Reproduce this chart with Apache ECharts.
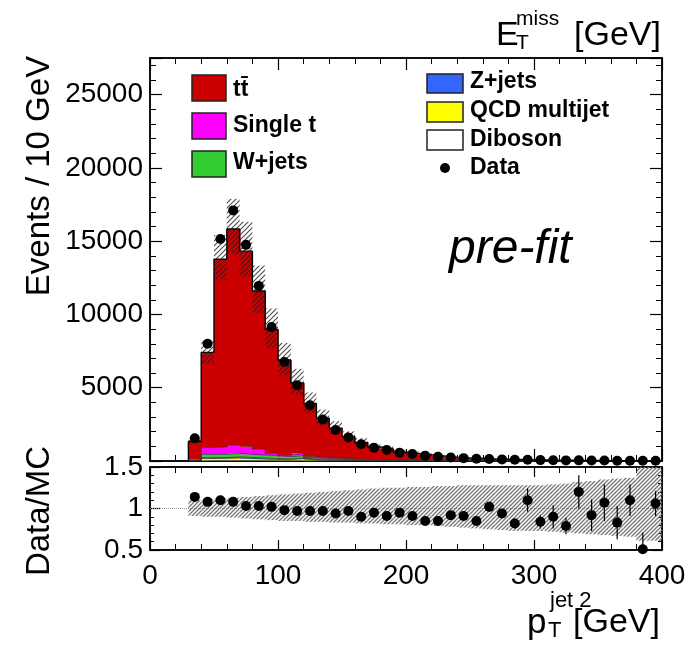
<!DOCTYPE html>
<html><head><meta charset="utf-8">
<script src="https://cdn.jsdelivr.net/npm/echarts@6/dist/echarts.min.js"></script>
<style>html,body{margin:0;padding:0;background:#fff}#c{width:691px;height:651px}</style>
</head><body><div id="c"></div>
<script>
// ---------- data (bins of 10 GeV, low edges) ----------
const binLow = [30,40,50,60,70,80,90,100,110,120,130,140,150,160,170,180,190,200,210,220,230,240,250,260,270,280,290,300,310,320,330,340,350,360,370,380,390];
const binWidth = 10;
const diboson = [5,30,35,35,30,25,20,18,15,12,10,8,7,6,5,4,4,3,3,2,2,2,2,1,1,1,1,1,1,1,1,1,0.5,0.5,0.5,0.5,0.5];
const qcd     = [20,140,140,170,140,110,90,80,140,60,45,35,28,22,18,15,12,10,8,7,6,5,4,3,3,2,2,2,1,1,1,1,1,1,1,1,1];
const zjets   = [10,60,70,80,70,60,50,45,40,30,25,20,16,13,10,8,7,6,5,4,3,3,2,2,2,1,1,1,1,1,1,1,0.5,0.5,0.5,0.5,0.5];
const wjets   = [25,220,210,235,215,215,200,150,170,100,80,65,50,40,32,26,22,18,15,12,10,8,7,6,5,4,3,3,2,2,2,1.5,1.5,1,1,1,1];
const singleT = [30,460,495,570,520,385,160,90,150,90,60,45,35,28,22,18,15,12,10,8,6,5,4,3.5,3,2.5,2,1.5,1.2,1,1,0.8,0.7,0.6,0.5,0.4,0.4];
const ttbar   = [1240,6500,12820,14740,13345,10805,8450,6507,4815,3638,2700,2072,1524,1156,871,753,540,473,389,308,234,191,163,117,103,92,63,62,53,46,31.5,31,23,22.5,16,19.5,12];
const dataVals = [1550,8000,15150,17100,14750,11950,9150,6750,5170,3810,2830,2110,1610,1140,910,750,570,475,365,290,240,195,155,135,110,85,80,60,55,42,45,33,30,22,22,12,16];
const ratioVals = [1.14,1.08,1.10,1.08,1.03,1.03,1.02,0.98,0.97,0.97,0.97,0.94,0.97,0.90,0.95,0.91,0.95,0.91,0.85,0.85,0.92,0.91,0.85,1.02,0.94,0.82,1.10,0.84,0.90,0.79,1.20,0.92,1.07,0.83,1.10,0.51,1.06];
const ratioErr  = [0.02,0.015,0.01,0.01,0.01,0.01,0.015,0.015,0.02,0.02,0.02,0.025,0.03,0.03,0.035,0.035,0.04,0.04,0.045,0.045,0.05,0.05,0.05,0.06,0.05,0.06,0.14,0.08,0.14,0.10,0.20,0.19,0.22,0.20,0.19,0.20,0.15];
const bandLo = [0.91,0.90,0.90,0.89,0.88,0.87,0.86,0.85,0.85,0.84,0.84,0.83,0.83,0.82,0.82,0.81,0.81,0.80,0.80,0.79,0.78,0.77,0.76,0.75,0.74,0.73,0.73,0.73,0.72,0.71,0.70,0.69,0.68,0.67,0.66,0.61,0.61];
const bandHi = [1.10,1.11,1.12,1.13,1.14,1.15,1.16,1.17,1.18,1.19,1.20,1.21,1.22,1.23,1.24,1.25,1.25,1.26,1.26,1.27,1.27,1.28,1.28,1.28,1.28,1.28,1.28,1.28,1.29,1.30,1.32,1.33,1.35,1.36,1.37,1.55,1.55];
const xTicks = [0,100,200,300,400];
const yTicksTop = [5000,10000,15000,20000,25000];
const yTicksRatio = [0.5,1,1.5];

// ---------- styles ----------
const FONT = '"Liberation Sans", Arial, Helvetica, sans-serif';
const components = [
  {name:'Diboson', vals: diboson, color:'#ffffff'},
  {name:'QCD multijet', vals: qcd, color:'#ffff00'},
  {name:'Z+jets', vals: zjets, color:'#3366ff'},
  {name:'W+jets', vals: wjets, color:'#33cc33'},
  {name:'Single t', vals: singleT, color:'#ff00ff'},
  {name:'tt\u0304', vals: ttbar, color:'#cc0000'}
];

function hatch(s, color, w){
  const c = document.createElement('canvas'); c.width = s; c.height = s;
  const g = c.getContext('2d'); g.strokeStyle = color; g.lineWidth = w; g.beginPath();
  g.moveTo(0, s); g.lineTo(s, 0);
  g.moveTo(-s/2, s/2); g.lineTo(s/2, -s/2);
  g.moveTo(s/2, s*1.5); g.lineTo(s*1.5, s/2);
  g.stroke(); return c;
}
const hatchTop = {image: hatch(5, 'rgba(30,30,30,0.8)', 1.1), repeat: 'repeat'};
const hatchRatio = {image: hatch(4, 'rgba(110,110,110,0.95)', 1.3), repeat: 'repeat'};

const chart = echarts.init(document.getElementById('c'), null, {renderer: 'canvas'});

function rectRenderer(fill, snap){
  return function(params, api){
    const x0 = api.value(0), x1 = api.value(1), lo = api.value(2), hi = api.value(3);
    const p0 = api.coord([x0, hi]), p1 = api.coord([x1, lo]);
    const cs = params.coordSys;
    const yTop = Math.max(p0[1], cs.y), yBot = Math.min(p1[1], cs.y + cs.height);
    if (yBot <= yTop) return null;
    let xl = p0[0], xr = p1[0];
    if (snap) { xl = Math.round(xl); xr = Math.round(xr) + 0.5; }
    return {type: 'rect', shape: {x: xl, y: yTop, width: xr - xl, height: yBot - yTop},
      style: {fill: fill, lineWidth: 0}};
  };
}

// cumulative stack
const series = [];
let cum = binLow.map(() => 0);
const tops = [];
components.forEach((c) => {
  const lower = cum.slice();
  cum = cum.map((v, i) => v + c.vals[i]);
  tops.push(cum.slice());
  series.push({
    type: 'custom', xAxisIndex: 0, yAxisIndex: 0, z: 2,
    renderItem: rectRenderer(c.color, true),
    data: binLow.map((b, i) => [b, b + binWidth, lower[i], cum[i]])
  });
});
const mcTotal = cum;
// outlines of each component
tops.forEach((t, k) => {
  const pts = [[binLow[0], 0]];
  binLow.forEach((b, i) => pts.push([b, t[i]]));
  pts.push([binLow[binLow.length - 1] + binWidth, t[t.length - 1]]);
  const last = k === tops.length - 1;
  series.push({type: 'line', xAxisIndex: 0, yAxisIndex: 0, step: 'end', symbol: 'none', z: 3,
    lineStyle: {color: last ? '#000' : '#333', width: last ? 1.4 : 0.7}, data: pts, silent: true});
});
// MC uncertainty hatched band (top)
series.push({type: 'custom', xAxisIndex: 0, yAxisIndex: 0, z: 4,
  renderItem: rectRenderer(hatchTop, false),
  data: binLow.map((b, i) => [b, b + binWidth, mcTotal[i] * bandLo[i], mcTotal[i] * bandHi[i]])});
// data points (top)
series.push({type: 'scatter', xAxisIndex: 0, yAxisIndex: 0, z: 6, symbolSize: 10,
  itemStyle: {color: '#000', opacity: 1}, data: binLow.map((b, i) => [b + binWidth / 2, dataVals[i]])});

// ratio: reference line
series.push({type: 'line', xAxisIndex: 2, yAxisIndex: 2, symbol: 'none', z: 2,
  lineStyle: {color: '#999', width: 1, type: 'dotted'}, data: [[0, 1], [400, 1]]});
// ratio band
series.push({type: 'custom', xAxisIndex: 2, yAxisIndex: 2, z: 3,
  renderItem: rectRenderer(hatchRatio, false),
  data: binLow.map((b, i) => [b, b + binWidth, bandLo[i], bandHi[i]])});
// ratio error bars
series.push({type: 'custom', xAxisIndex: 2, yAxisIndex: 2, z: 5,
  renderItem: function(params, api){
    const x = api.value(0), lo = api.value(1), hi = api.value(2);
    const a = api.coord([x, hi]), b = api.coord([x, lo]);
    const cs = params.coordSys;
    return {type: 'line', shape: {x1: a[0], y1: Math.max(a[1], cs.y), x2: b[0], y2: Math.min(b[1], cs.y + cs.height)},
      style: {stroke: '#000', lineWidth: 1.2}};
  },
  data: binLow.map((b, i) => [b + binWidth / 2, ratioVals[i] - ratioErr[i], ratioVals[i] + ratioErr[i]])});
series.push({type: 'scatter', xAxisIndex: 2, yAxisIndex: 2, z: 6, symbolSize: 10,
  itemStyle: {color: '#000', opacity: 1}, data: binLow.map((b, i) => [b + binWidth / 2, ratioVals[i]])});

function xAx(grid, pos, labels, majLen, minLen){
  return {type: 'value', gridIndex: grid, position: pos, min: xTicks[0], max: xTicks[xTicks.length - 1], interval: xTicks[1] - xTicks[0],
    axisLine: {show: true, onZero: false, lineStyle: {color: '#000', width: 1.5}},
    axisTick: {show: true, inside: true, length: majLen, lineStyle: {color: '#000', width: 1.2}},
    minorTick: {show: true, splitNumber: 5, length: minLen, lineStyle: {color: '#000', width: 1}},
    splitLine: {show: false},
    axisLabel: {show: labels, color: '#000', fontSize: 28, fontFamily: FONT, margin: 12, showMinLabel: true, showMaxLabel: true}};
}
function yAx(grid, pos, labels, ticks, minLen, majLen){
  const iv = ticks[1] - ticks[0];
  const isTop = grid === 0;
  return {type: 'value', gridIndex: grid, position: pos,
    min: isTop ? 0 : ticks[0], max: isTop ? 27500 : ticks[ticks.length - 1], interval: iv,
    axisLine: {show: true, onZero: false, lineStyle: {color: '#000', width: 1.5}},
    axisTick: {show: true, inside: true, length: majLen, lineStyle: {color: '#000', width: 1.2}},
    minorTick: {show: true, splitNumber: 5, length: minLen, lineStyle: {color: '#000', width: 1}},
    splitLine: {show: false},
    axisLabel: {show: labels, color: '#000', fontSize: 28, fontFamily: FONT, margin: 7,
      showMinLabel: !isTop, showMaxLabel: !isTop,
      formatter: (v) => isTop ? (v > 0 && v <= 25000 ? String(v) : '') : String(v)}};
}

const txt = (x, y, text, size, opts) => Object.assign({type: 'text', x: x, y: y, z: 100,
  style: Object.assign({text: text, fill: '#000', font: (opts && opts.font) || ('normal ' + size + 'px ' + FONT),
    textAlign: 'left', textVerticalAlign: 'middle', align: 'left', verticalAlign: 'middle'}, (opts && opts.style) || {})}, (opts && opts.el) || {});

const legendBox = (x, y, w, h, color) => ({type: 'rect', z: 100, shape: {x: x, y: y, width: w, height: h},
  style: {fill: color, stroke: '#222', lineWidth: 1.5}});
const LB = 'bold 23px ' + FONT;

const graphics = [
  // legend left
  legendBox(192, 75, 34, 26, '#cc0000'), txt(233, 90, 'tt\u0304', 23, {font: LB}),
  legendBox(192, 113, 34, 26, '#ff00ff'), txt(233, 126, 'Single t', 23, {font: LB}),
  legendBox(192, 151, 34, 26, '#33cc33'), txt(233, 163, 'W+jets', 23, {font: LB}),
  // legend right
  legendBox(427, 74, 36, 19, '#3366ff'), txt(470, 82, 'Z+jets', 23, {font: LB}),
  legendBox(427, 102, 36, 20, '#ffff00'), txt(470, 111, 'QCD multijet', 23, {font: LB}),
  legendBox(427, 130, 36, 20, '#ffffff'), txt(470, 140, 'Diboson', 23, {font: LB}),
  {type: 'circle', z: 100, shape: {cx: 445, cy: 168, r: 5}, style: {fill: '#000'}},
  txt(470, 168, 'Data', 23, {font: LB}),
  // pre-fit
  txt(449, 250, 'pre-fit', 48, {font: 'italic 48px ' + FONT}),
  // top-right title
  txt(496, 36, 'E', 34), txt(516, 19, 'miss', 21), txt(516, 43, 'T', 21), txt(574, 36, '[GeV]', 34),
  // x title
  txt(527, 623, 'p', 35), txt(548, 631, 'T', 22), txt(550, 601, 'jet 2', 22), txt(573, 623, '[GeV]', 34),
  // y titles
  {type: 'text', x: 40, y: 176, rotation: Math.PI / 2, z: 100,
    style: {text: 'Events / 10 GeV', fill: '#000', font: 'normal 33px ' + FONT, textAlign: 'center', textVerticalAlign: 'middle', align: 'center', verticalAlign: 'middle'}},
  {type: 'text', x: 40, y: 511, rotation: Math.PI / 2, z: 100,
    style: {text: 'Data/MC', fill: '#000', font: 'normal 33px ' + FONT, textAlign: 'center', textVerticalAlign: 'middle', align: 'center', verticalAlign: 'middle'}}
];

chart.setOption({
  animation: false,
  backgroundColor: '#fff',
  grid: [
    {left: 150, top: 58, width: 512, height: 403, show: true, borderColor: '#000', borderWidth: 1.5, backgroundColor: 'transparent', outerBoundsMode: 'none', containLabel: false},
    {left: 150, top: 467, width: 512, height: 83, show: true, borderColor: '#000', borderWidth: 1.5, backgroundColor: 'transparent', outerBoundsMode: 'none', containLabel: false}
  ],
  xAxis: [xAx(0, 'bottom', false, 12, 6), xAx(0, 'top', false, 12, 6), xAx(1, 'bottom', true, 10, 6), xAx(1, 'top', false, 10, 6)],
  yAxis: [yAx(0, 'left', true, yTicksTop, 6, 12), yAx(0, 'right', false, yTicksTop, 6, 12),
          yAx(1, 'left', true, yTicksRatio, 4, 10), yAx(1, 'right', false, yTicksRatio, 4, 10)],
  series: series,
  graphic: graphics
});
</script></body></html>
